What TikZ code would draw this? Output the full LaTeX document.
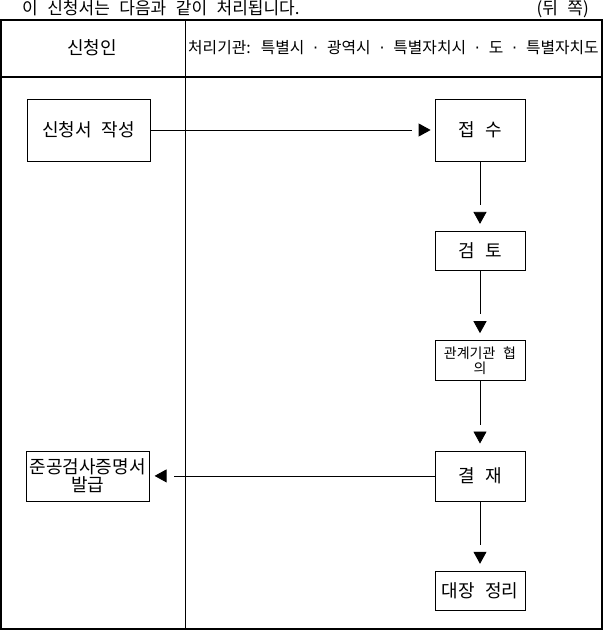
\documentclass[tikz,border=0pt]{standalone}
\usepackage{fontspec}
\setmainfont{Noto Sans CJK KR}[WordSpace=2.5]
\newfontfamily\dotfont{DejaVu Sans}
\usetikzlibrary{arrows.meta, positioning, decorations.markings}

\begin{document}
\begin{tikzpicture}[x=1pt,y=-1pt,node distance=69.5pt,
  box/.style={draw, line width=0.8pt, minimum width=90pt, inner sep=1pt, align=center,
    font=\fontsize{18}{18}\selectfont},
  widebox/.style={box, minimum width=123pt},
  flow/.style={line width=0.8pt, shorten >=#1+19pt, postaction={decorate},
    decoration={markings, mark=at position -#1 with {\arrow{Triangle[width=13pt,length=12pt]}}}},
  flow/.default=7pt]
\useasboundingbox (0,0) rectangle (603,630);

% heading above the table
\node[anchor=base west, inner sep=0pt, font=\fontsize{17}{17}\selectfont] (title) at (22,14) {이 신청서는 다음과 같이 처리됩니다.};
\node[anchor=base east, inner sep=0pt, font=\fontsize{17}{17}\selectfont] (side) at (589,14) {(뒤 쪽)};

% table frame
\draw[line width=2pt] (1,20) rectangle (602,629);
\draw[line width=1.4pt] (1,77) -- (602,77);
\draw[line width=0.8pt] (185,20) -- (185,629);
\node[font=\fontsize{18}{18}\selectfont] (applicant) at (92,48) {신청인};
\node[anchor=west, inner sep=0pt, font=\fontsize{15.8}{15.8}\selectfont] (agency) at (188,48) {처리기관: 특별시 {\dotfont ·} 광역시 {\dotfont ·} 특별자치시 {\dotfont ·} 도 {\dotfont ·} 특별자치도};

% process boxes
\node[box, minimum height=62pt] (receipt) at (480,130) {접 수};
\node[box, minimum height=39pt, below=of receipt] (review) {검 토};
\node[box, minimum height=40pt, below=of review, font=\fontsize{14}{15}\selectfont] (consult) {관계기관 협\\의};
\node[box, minimum height=50pt, below=of consult] (approval) {결 재};
\node[box, minimum height=39pt, below=of approval] (ledger) {대장 정리};
\node[widebox, minimum height=62pt] (write) at (88.5,130) {신청서 작성};
\node[widebox, minimum height=50pt, left=285pt of approval] (issue) {준공검사증명서\\발급};

\draw[flow=4pt] (write) -- (receipt);
\draw[flow] (receipt) -- (review);
\draw[flow] (review) -- (consult);
\draw[flow] (consult) -- (approval);
\draw[flow] (approval) -- (ledger);
\draw[flow=5pt] (approval) -- (issue);
\end{tikzpicture}
\end{document}
